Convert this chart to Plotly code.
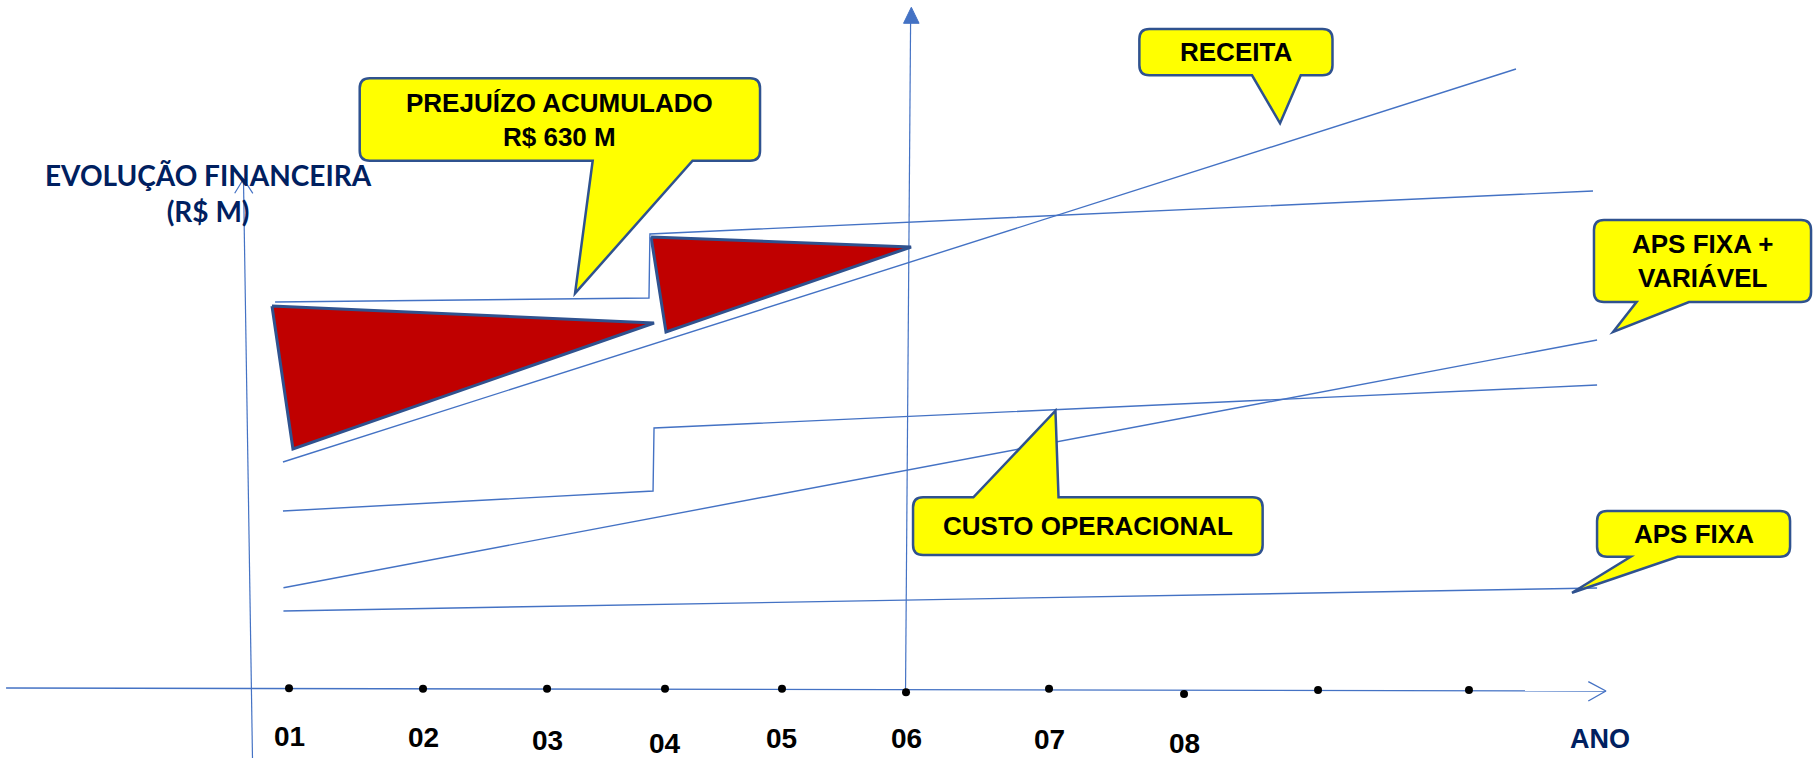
import plotly.graph_objects as go

# ---------------- data (x: years, y: R$ M, schematic) ----------------
years_x = [1.000, 2.086, 3.091, 4.047, 4.995, 6.000, 7.159, 8.253, 9.339, 10.562]
years_y = [0.7, 0.3, 0.3, 0.3, 0.3, -3.3, 0.3, -5.0, -1.0, -1.0]
tick_labels = ["01", "02", "03", "04", "05", "06", "07", "08"]

receita_x = [0.951, 10.943]
receita_y = [227, 620]

receita_aporte_x = [0.887, 3.917, 3.925, 11.567]
receita_aporte_y = [387, 391, 455, 498]

custo_x = [0.951, 3.950, 3.958, 11.600]
custo_y = [178, 198, 261, 304]

aps_var_x = [0.955, 11.600]
aps_var_y = [101.3, 349]

aps_fixa_x = [0.955, 11.600]
aps_fixa_y = [78, 101]

loss1_x = [0.862, 3.958, 1.032, 0.862]
loss1_y = [383, 366, 240, 383]

loss2_x = [3.934, 6.041, 4.055, 3.934]
loss2_y = [452, 442, 357, 452]

# axes of the diagram
haxis_x = [-1.293, 11.672]
haxis_y = [1, -2]
harrow_x = [11.529, 11.672, 11.529]
harrow_y = [7.3, -2, -12]

vaxis_x = [0.704, 0.631]
vaxis_y = [-69, 510]
varrow_x = [0.560, 0.631, 0.707]
varrow_y = [495.7, 510, 495.7]

maxis_x = [5.996, 6.037]
maxis_y = [-3, 666]
marrow_x = [5.980, 6.106, 6.043, 5.980]
marrow_y = [665.7, 665.7, 681.7, 665.7]

# ---------------- styles ----------------
BLUE = "#4472C4"
DARKBLUE = "#2F528F"
NAVY = "#002060"
RED = "#C00000"
YELLOW = "#FFFF00"
PX_X = 123.4  # px per x unit
PX_Y = 1.0    # px per y unit

fig = go.Figure()

def line(x, y, width=1.4, color=BLUE):
    fig.add_trace(go.Scatter(x=x, y=y, mode="lines", line=dict(color=color, width=width),
                             hoverinfo="skip", showlegend=False))

# axes
line(haxis_x, haxis_y)
line(harrow_x, harrow_y)
line(vaxis_x, vaxis_y, width=1.2)
line(varrow_x, varrow_y, width=1.2)
line(maxis_x, maxis_y, width=1.2)
fig.add_trace(go.Scatter(x=marrow_x, y=marrow_y, mode="lines", fill="toself",
                         fillcolor=BLUE, line=dict(color=BLUE, width=1),
                         hoverinfo="skip", showlegend=False))

# loss triangles
for tx, ty in [(loss1_x, loss1_y), (loss2_x, loss2_y)]:
    fig.add_trace(go.Scatter(x=tx, y=ty, mode="lines", fill="toself", fillcolor=RED,
                             line=dict(color=DARKBLUE, width=3), hoverinfo="skip",
                             showlegend=False))

# series lines
line(receita_x, receita_y)
line(receita_aporte_x, receita_aporte_y)
line(custo_x, custo_y)
line(aps_var_x, aps_var_y)
line(aps_fixa_x, aps_fixa_y)

# year dots
fig.add_trace(go.Scatter(x=years_x, y=years_y, mode="markers",
                         marker=dict(color="black", size=8), hoverinfo="skip",
                         showlegend=False))

# tick labels
tick_label_y = [-47, -48, -51, -54, -49, -49, -50, -54]
for lab, xv, yv in zip(tick_labels, years_x, tick_label_y):
    fig.add_annotation(x=xv, y=yv, text=lab, showarrow=False,
                       font=dict(family="Liberation Sans", size=28, color="black", weight="bold"))

fig.add_annotation(x=11.62, y=-50, text="ANO", showarrow=False,
                   font=dict(family="Liberation Sans", size=27, color=NAVY, weight="bold"))
fig.add_annotation(x=0.344, y=496, text="EVOLUÇÃO FINANCEIRA<br>(R$ M)", showarrow=False,
                   font=dict(family="Lato", size=28, color=NAVY, weight="bold"),
                   align="center")

# callouts: box (x0, x1, ybottom, ytop), pointer side, base x's, tip, text lines
callouts = [
    dict(box=(1.573, 4.817, 528.3, 610.7), side="bottom", base=(3.461, 4.270), tip=(3.318, 395.7),
         text="PREJUÍZO ACUMULADO<br>R$ 630 M"),
    dict(box=(7.891, 9.456, 613.7, 660.0), side="bottom", base=(8.804, 9.199), tip=(9.031, 565.7),
         text="RECEITA"),
    dict(box=(11.575, 13.334, 387.0, 469.0), side="bottom", base=(11.920, 12.345), tip=(11.730, 357.0),
         text="APS FIXA +<br>VARIÁVEL"),
    dict(box=(6.057, 8.890, 134.0, 191.7), side="top", base=(6.546, 7.236), tip=(7.211, 278.3),
         text="CUSTO OPERACIONAL"),
    dict(box=(11.600, 13.164, 132.3, 178.0), side="bottom", base=(11.872, 12.253), tip=(11.397, 96.3),
         text="APS FIXA"),
]

R = 10.0
for c in callouts:
    x0, x1, y0, y1 = c["box"]
    rx, ry = R / PX_X, R / PX_Y
    b1, b2 = c["base"]
    tx, ty = c["tip"]
    p = f"M {x0+rx},{y1} "
    if c["side"] == "top":
        p += f"L {b1},{y1} L {tx},{ty} L {b2},{y1} "
    p += f"L {x1-rx},{y1} Q {x1},{y1} {x1},{y1-ry} L {x1},{y0+ry} Q {x1},{y0} {x1-rx},{y0} "
    if c["side"] == "bottom":
        p += f"L {b2},{y0} L {tx},{ty} L {b1},{y0} "
    p += f"L {x0+rx},{y0} Q {x0},{y0} {x0},{y0+ry} L {x0},{y1-ry} Q {x0},{y1} {x0+rx},{y1} Z"
    fig.add_shape(type="path", path=p, xref="x", yref="y", fillcolor=YELLOW,
                  line=dict(color=DARKBLUE, width=2.5), layer="above")
    fig.add_annotation(x=(x0 + x1) / 2, y=(y0 + y1) / 2, text=c["text"], showarrow=False,
                       font=dict(family="Liberation Sans", size=26, color="black", weight="bold"),
                       align="center")

fig.update_layout(
    width=1814, height=758, margin=dict(l=0, r=0, t=0, b=0),
    plot_bgcolor="white", paper_bgcolor="white",
    xaxis=dict(range=[-1.342, 13.358], visible=False, fixedrange=True),
    yaxis=dict(range=[-69, 689], visible=False, fixedrange=True),
    showlegend=False,
)

fig.write_html("out.html", config={"displayModeBar": False},
               post_script="document.body.style.margin='0';document.body.style.overflow='hidden';")
